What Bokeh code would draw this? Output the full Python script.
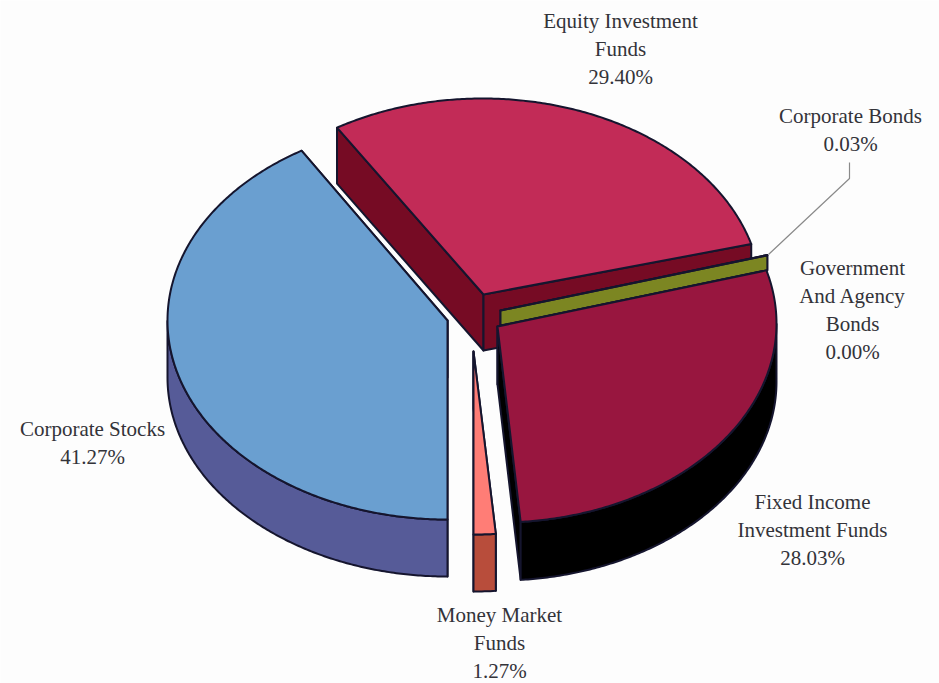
import numpy as np
from bokeh.plotting import figure
from bokeh.models import ColumnDataSource
from bokeh.core.properties import value
from bokeh.embed import file_html
from bokeh.resources import INLINE

# ---- data ----
names = ["Corporate Stocks", "Equity Investment Funds", "Corporate Bonds",
         "Government And Agency Bonds", "Fixed Income Investment Funds", "Money Market Funds"]
shares = [41.27, 29.40, 0.03, 0.00, 28.03, 1.27]

# ---- layout: ellipse centre, hub, radii, extrusion, colours per slice ----
RY = 199
radii_x = [280, 279, 280, 280, 278, 280]
centers = [(447, 320), (482, 297), (497, 308), (497, 308), (498, 323), (473, 335)]
hubs = [(447, 320), (483, 294), (500, 310), (500, 310), (497, 326), (473, 351)]
depths = [57, 56, 15, 15, 58, 57]
top_colors = ["#6a9fd0", "#c22b57", "#7c8622", "#7c8622", "#98163f", "#ff7d76"]
wall_colors = ["#565b98", "#760b24", "#7c8622", "#7c8622", "#000000", "#b84d3b"]
draw_order = [1, 2, 4, 5, 0]

label_lines = [
    (["Corporate Stocks"], 92, 428),
    (["Equity Investment", "Funds"], 620, 20),
    (["Corporate Bonds"], 850, 115),
    (["Government", "And Agency", "Bonds"], 852, 267),
    (["Fixed Income", "Investment Funds"], 812, 501),
    (["Money Market", "Funds"], 499, 614),
]
LINE_H = 28
leader_x = [849, 849, 768]
leader_y = [162, 178, 254]
OUTLINE = "#15152e"

# ---- geometry from the shares ----
edges = 180 + np.cumsum([0] + [s * 3.6 for s in shares])


def rim(i, deg):
    t = np.radians(deg)
    cx, cy = centers[i]
    return cx + radii_x[i] * np.sin(t), cy - RY * np.cos(t)


xs, ys, fills = [], [], []


def add(px, py, color):
    xs.append(list(map(float, px)))
    ys.append(list(map(float, py)))
    fills.append(color)


for i in draw_order:
    a0, a1 = edges[i], edges[i + 1]
    deg = np.linspace(a0, a1, max(3, int((a1 - a0) * 2)))
    rx, ry = rim(i, deg)
    hx, hy = hubs[i]
    d = depths[i]
    wall = wall_colors[i]
    # straight cut faces
    for j in (0, -1):
        add([hx, rx[j], rx[j], hx], [hy, ry[j], ry[j] + d, hy + d], wall)
    # front-facing part of the outer rim
    a = np.mod(deg, 360)
    front = (a >= 90) & (a <= 270)
    if front.sum() > 1:
        fx, fy = rx[front], ry[front]
        add(np.r_[fx, fx[::-1]], np.r_[fy, fy[::-1] + d], wall)
    # top face
    add(np.r_[hx, rx], np.r_[hy, ry], top_colors[i])

p = figure(width=939, height=683, x_range=(0, 939), y_range=(683, 0),
           toolbar_location=None, output_backend="svg", min_border=0,
           background_fill_color="#fdfdfd", border_fill_color="#fdfdfd")
p.axis.visible = False
p.grid.visible = False
p.outline_line_color = None

p.patches("xs", "ys", fill_color="fills", line_color=OUTLINE, line_width=2, line_join="round",
          source=ColumnDataSource(dict(xs=xs, ys=ys, fills=fills)))
p.line(leader_x, leader_y, line_color="#8a8a8a", line_width=1.2)

tx, ty, tt = [], [], []
for (lines, x, y), share in zip(label_lines, shares):
    for k, line in enumerate(lines + [f"{share:.2f}%"]):
        tx.append(x)
        ty.append(y + k * LINE_H)
        tt.append(line)
p.text(tx, ty, text=tt, text_font=value("Liberation Serif"), text_font_size="21px",
       text_color="#333339", text_align="center", text_baseline="middle")

open("out.html", "w").write(file_html(p, INLINE))
